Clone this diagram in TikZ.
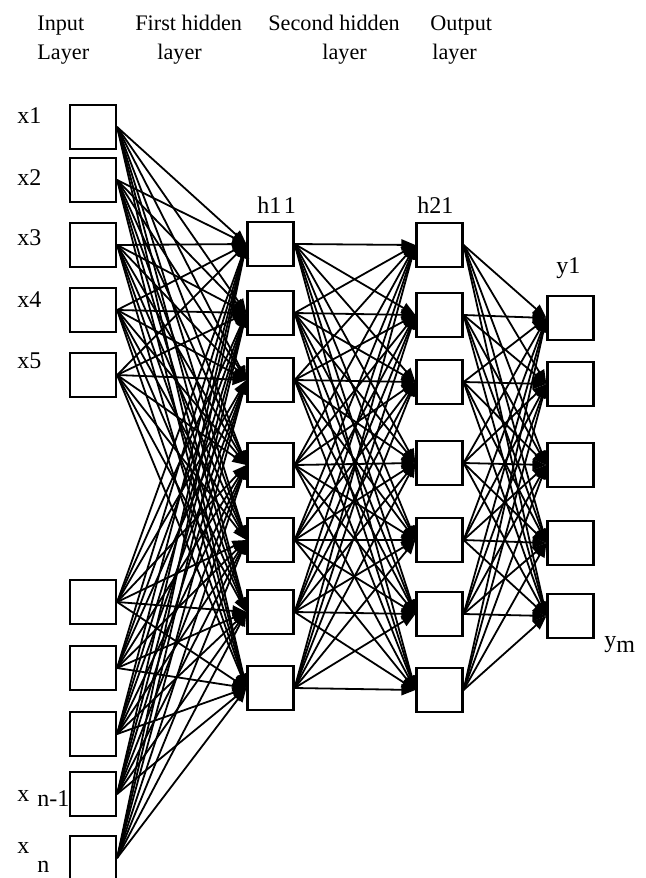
\documentclass[tikz,border=0pt]{standalone}
\usepackage{fontspec}
\setmainfont{Liberation Serif}
\usetikzlibrary{arrows.meta}
\begin{document}
\begin{tikzpicture}[x=0.5pt,y=-0.5pt,
  neuron/.style={draw,line width=1.1pt,minimum width=23pt,minimum height=22pt,inner sep=0pt},
  conn/.style={line width=0.9pt,-{Triangle[length=7pt,width=5.5pt]}},
  lbl/.style={font=\fontsize{12}{14}\selectfont,inner sep=0pt},
  head/.style={font=\fontsize{11.1}{13}\selectfont,inner sep=0pt}]
\useasboundingbox (0,0) rectangle (645,878);

% headers
\node[head,anchor=base west] (h1a) at (37,31) {Input};
\node[head,anchor=base west] (h1b) at (37,59) {Layer};
\node[head,anchor=base west] (h2a) at (135,31) {First hidden};
\node[head,anchor=base west] (h2b) at (157,59) {layer};
\node[head,anchor=base west] (h3a) at (268,31) {Second hidden};
\node[head,anchor=base west] (h3b) at (322,59) {layer};
\node[head,anchor=base west] (h4a) at (430,31) {Output};
\node[head,anchor=base west] (h4b) at (432,59) {layer};

% input layer
\foreach \i/\y in {1/127,2/180,3/245,4/310,5/375,6/602,7/668,8/734,9/794,10/858}
  \node[neuron] (i\i) at (93,\y) {};
% first hidden
\foreach \i/\y in {1/244,2/313,3/380,4/465,5/540,6/612,7/688}
  \node[neuron] (a\i) at (270.5,\y) {};
% second hidden
\foreach \i/\y in {1/245,2/315,3/382,4/463,5/540,6/614,7/690}
  \node[neuron] (b\i) at (439.5,\y) {};
% output
\foreach \i/\y in {1/318,2/384,3/465,4/543,5/616}
  \node[neuron] (o\i) at (570.5,\y) {};

% labels
\node[lbl,anchor=base west] (lx1) at (17,123) {x1};
\node[lbl,anchor=base west] (lx2) at (17,185) {x2};
\node[lbl,anchor=base west] (lx3) at (17,245) {x3};
\node[lbl,anchor=base west] (lx4) at (17,307) {x4};
\node[lbl,anchor=base west] (lx5) at (17,368) {x5};
\node[lbl,anchor=base west] (lxn1) at (17,801) {x\hspace{4pt}\raisebox{-0.5ex}{n-1}};
\node[lbl,anchor=base west] (lxn) at (17,853) {x\hspace{4pt}\raisebox{-1.8ex}{n}};
\node[lbl,anchor=base west] (lh11) at (257,213) {h1\kern1.2pt1};
\node[lbl,anchor=base west] (lh21) at (417,213) {h21};
\node[lbl,anchor=base west] (ly1) at (556,273) {y1};
\node[lbl,anchor=base west] (lym) at (604,647) {y\raisebox{-0.5ex}{m}};

% connections
\foreach \s in {1,...,10}
  \foreach \t in {1,...,7}
    \draw[conn] (i\s.east) -- (a\t.west);
\foreach \s in {1,...,7}
  \foreach \t in {1,...,7}
    \draw[conn] (a\s.east) -- (b\t.west);
\foreach \s in {1,...,7}
  \foreach \t in {1,...,5}
    \draw[conn] (b\s.east) -- (o\t.west);
\end{tikzpicture}
\end{document}
